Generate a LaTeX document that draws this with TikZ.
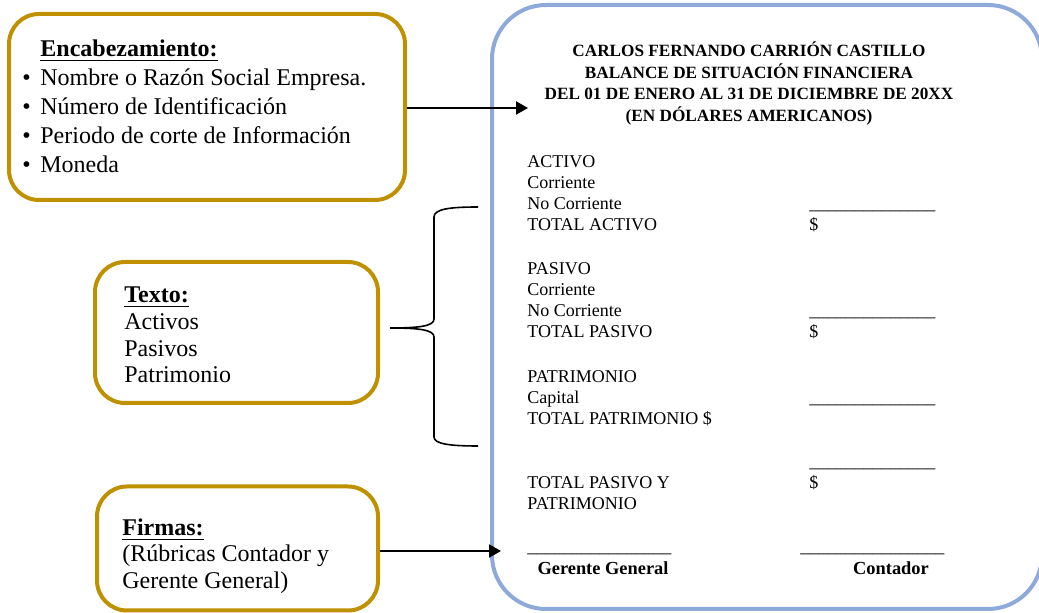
\documentclass[tikz,border=0pt]{standalone}
\usepackage{fontspec}
\setmainfont{Liberation Serif}
\usetikzlibrary{arrows.meta}
\definecolor{oro}{HTML}{BF9000}
\definecolor{azul}{HTML}{8EAADB}
\newcommand{\rayas}[1]{\foreach \k in {1,...,#1}{\_}}
\begin{document}
\begin{tikzpicture}[x=0.5pt,y=-0.5pt,
	cajaoro/.style={draw=oro,line width=2pt,rounded corners=15pt},
	cajaazul/.style={draw=azul,line width=2pt,rounded corners=27pt},
	flecha/.style={line width=1pt,-{Triangle[length=6pt,width=6.5pt]}},
	txtcaja/.style={anchor=base west,inner sep=0pt,font=\fontsize{12}{14}\selectfont},
	txtbal/.style={anchor=base west,inner sep=0pt,font=\fontsize{9}{10}\selectfont},
	txtfirma/.style={anchor=base,inner sep=0pt,font=\fontsize{9.2}{10}\selectfont\bfseries},
	txttit/.style={anchor=base,inner sep=0pt,font=\fontsize{8.6}{9.5}\selectfont\bfseries}]
			\useasboundingbox (0,0) rectangle (1039,613);
			%Boxes
			\node [cajaoro,minimum width=198pt,minimum height=93pt] (encab) at (207,107) {};
			\node [cajaoro,minimum width=141.5pt,minimum height=70.5pt] (texto) at (236.5,332.5) {};
			\node [cajaoro,minimum width=140.5pt,minimum height=62pt] (firmas) at (237.5,548.5) {};
			\node [cajaazul,minimum width=275pt,minimum height=302pt] (balance) at (767,307) {};
			%Encabezamiento
			\node [txtcaja] (encabTit) at (40,57) {\underline{\textbf{Encabezamiento:}}};
			\foreach \t [count=\i] in {Nombre o Razón Social Empresa.,Número de Identificación,Periodo de corte de Información,Moneda} {
				\node [txtcaja] (bul\i) at (22,{57+29*\i}) {\textbullet};
				\node [txtcaja] (encab\i) at (40,{57+29*\i}) {\t};
			}
			%Texto
			\node [txtcaja] (textoTit) at (124,303) {\underline{\textbf{Texto:}}};
			\node [txtcaja] (texto1) at (124,330) {Activos};
			\node [txtcaja] (texto2) at (124,357) {Pasivos};
			\node [txtcaja] (texto3) at (124,383) {Patrimonio};
			%Firmas
			\node [txtcaja] (firmasTit) at (122,536) {\underline{\textbf{Firmas:}}};
			\node [txtcaja] (firmas1) at (122,562) {(Rúbricas Contador y};
			\node [txtcaja] (firmas2) at (122,589) {Gerente General)};
			%Arrows
			\coordinate (puntaEnc) at (528,108);
			\coordinate (puntaFir) at (501,551);
			\draw [flecha] (encab.east |- puntaEnc) -- (puntaEnc);
			\draw [flecha] (firmas.east |- puntaFir) -- (puntaFir);
			%The brace
			\coordinate (llaveTop) at (478,207);
			\coordinate (llavePico) at (390,328);
			\coordinate (llaveBot) at (478,446);
			\draw [line width=0.8pt] (llaveTop) .. controls (450,207) and (434,209) .. (434,217)
				-- (434,319) .. controls (434,326) and (420,328) .. (llavePico)
				.. controls (420,328) and (434,330) .. (434,337)
				-- (434,437) .. controls (434,444) and (450,446) .. (llaveBot);
			%Title of the statement
			\node [txttit] (tit1) at (749,57) {CARLOS FERNANDO CARRIÓN CASTILLO};
			\node [txttit] (tit2) at (749,79) {BALANCE DE SITUACIÓN FINANCIERA};
			\node [txttit] (tit3) at (749,100) {DEL 01 DE ENERO AL 31 DE DICIEMBRE DE 20XX};
			\node [txttit] (tit4) at (749,122) {(EN DÓLARES AMERICANOS)};
			%Accounts
			\node [txtbal] (act0) at (527,168) {ACTIVO};
			\node [txtbal] (act1) at (527,189) {Corriente};
			\node [txtbal] (act2) at (527,210) {No Corriente};
			\node [txtbal] (act3) at (527,231) {TOTAL ACTIVO};
			\node [txtbal] (pas0) at (527,275) {PASIVO};
			\node [txtbal] (pas1) at (527,296) {Corriente};
			\node [txtbal] (pas2) at (527,317) {No Corriente};
			\node [txtbal] (pas3) at (527,338) {TOTAL PASIVO};
			\node [txtbal] (pat0) at (527,383) {PATRIMONIO};
			\node [txtbal] (pat1) at (527,404) {Capital};
			\node [txtbal] (pat2) at (527,425) {TOTAL PATRIMONIO \$};
			\node [txtbal] (tot1) at (527,489) {TOTAL PASIVO Y};
			\node [txtbal] (tot2) at (527,510) {PATRIMONIO};
			%Amounts
			\node [txtbal] (raya1) at (809,210) {\rayas{14}};
			\node [txtbal] (dolar1) at (809,231) {\$};
			\node [txtbal] (raya2) at (809,317) {\rayas{14}};
			\node [txtbal] (dolar2) at (809,338) {\$};
			\node [txtbal] (raya3) at (809,404) {\rayas{14}};
			\node [txtbal] (raya4) at (809,468) {\rayas{14}};
			\node [txtbal] (dolar4) at (809,489) {\$};
			%Signatures
			\node [txtbal] (rayaGer) at (527,553) {\rayas{16}};
			\node [txtbal] (rayaCon) at (800,553) {\rayas{16}};
			\node [txtfirma] (gerente) at (603,575) {Gerente General};
			\node [txtfirma] (contador) at (891,575) {Contador};
\end{tikzpicture}
\end{document}
